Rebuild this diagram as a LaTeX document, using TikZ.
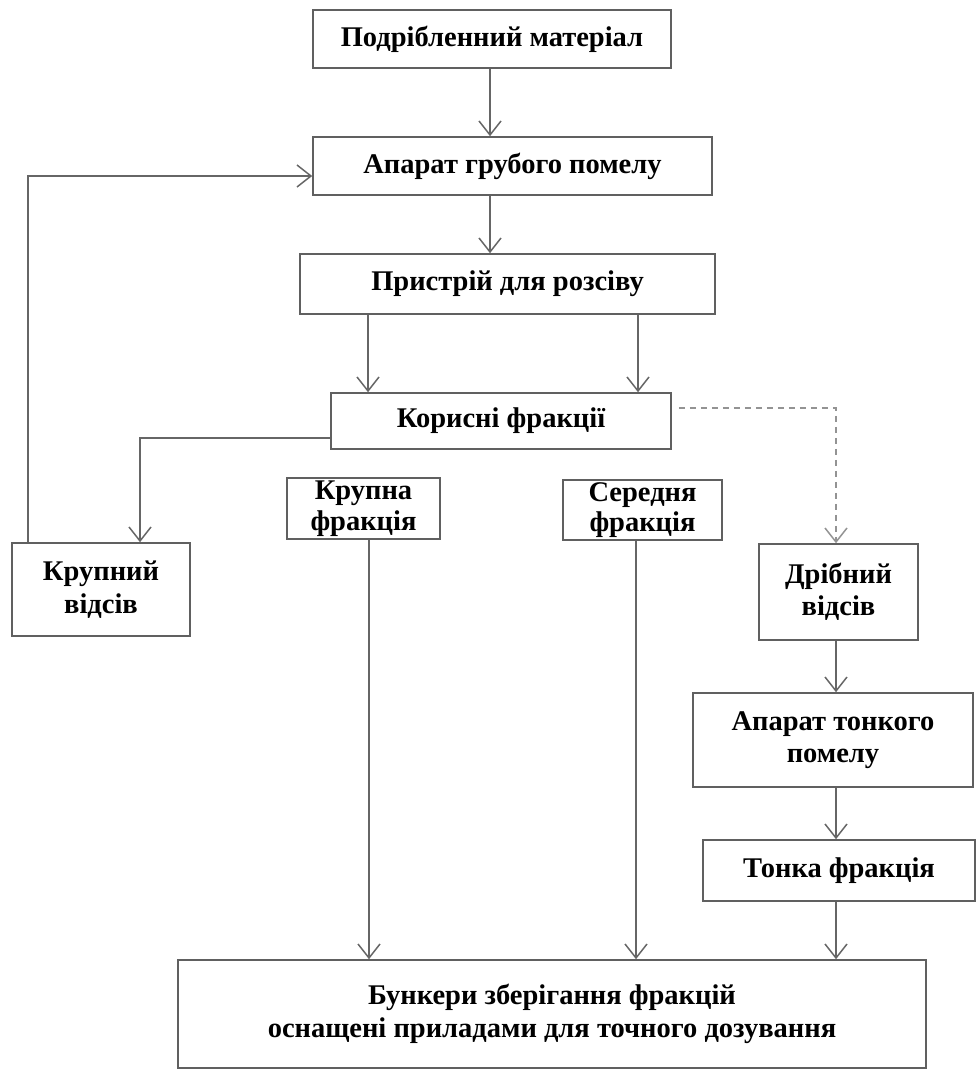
\documentclass[tikz,border=0pt]{standalone}
\usepackage{fontspec}
\setmainfont{Liberation Serif}
\usetikzlibrary{positioning}
\usetikzlibrary{arrows.meta}

\begin{document}
\begin{tikzpicture}[x=1pt,y=-1pt,
  blok/.style={draw=gray!75!black, line width=1.6pt, inner sep=0pt, align=center,
    font=\bfseries\fontsize{28.5}{32.5}\selectfont},
  strilka/.style={draw=gray!80!black, line width=1.5pt, -{Straight Barb[length=14pt,width=22pt]}},
  punktyr/.style={draw=gray!85, line width=1.5pt, dash pattern=on 6pt off 5pt,
    -{Straight Barb[length=14pt,width=22pt]}}]
\useasboundingbox (0,0) rectangle (978,1070);

\node[blok, minimum width=358, minimum height=58] (material) at (492,39) {Подрібленний матеріал};
\node[blok, minimum width=399, minimum height=58] (grubyi) at (512.5,166) {Апарат грубого помелу};
\node[blok, minimum width=415, minimum height=60] (rozsiv) at (507.5,284) {Пристрій для розсіву};
\node[blok, minimum width=340, minimum height=56] (korysni) at (501,421) {Корисні фракції};

\node[blok, minimum width=178, minimum height=93] (vidsiv) at (101,589.5) {Крупний\\відсів};
\node[blok, minimum width=153, minimum height=61] (krupna) at (363.5,508.5) {Крупна\\[-2pt]фракція};
\node[blok, minimum width=159, minimum height=60] (serednia) at (642.5,510) {Середня\\[-2pt]фракція};
\node[blok, minimum width=159, minimum height=96] (dribnyi) at (838.5,592) {Дрібний\\відсів};

\node[blok, minimum width=280, minimum height=94] (tonkyi) at (833,740) {Апарат тонкого\\помелу};
\node[blok, minimum width=272, minimum height=61] (tonka) at (839,870.5) {Тонка фракція};
\node[blok, minimum width=748, minimum height=108] (bunker) at (552,1014)
  {Бункери зберігання фракцій\\оснащені приладами для точного дозування};

% points where the lines run
\coordinate (os) at (490,0);
\coordinate (liv) at (368,0);
\coordinate (prav) at (638,0);
\coordinate (kv) at (140,438);
\coordinate (zv) at (28,176);
\coordinate (dr) at (836,408);
\coordinate (kr) at (369,0);
\coordinate (sr) at (636,0);

\draw[strilka] (material.south -| os) -- (grubyi.north -| os);
\draw[strilka] (grubyi.south -| os) -- (rozsiv.north -| os);
\draw[strilka] (rozsiv.south -| liv) -- (korysni.north -| liv);
\draw[strilka] (rozsiv.south -| prav) -- (korysni.north -| prav);

\draw[strilka] (korysni.west |- kv) -- (kv) -- (vidsiv.north -| kv);
\draw[strilka] (vidsiv.north -| zv) -- (zv) -- (grubyi.west |- zv);
\draw[punktyr, shorten <=7pt] (korysni.east |- dr) -- (dr) -- (dribnyi.north -| dr);

\draw[strilka] (dribnyi.south -| dr) -- (tonkyi.north -| dr);
\draw[strilka] (tonkyi.south -| dr) -- (tonka.north -| dr);

\draw[strilka] (krupna.south -| kr) -- (bunker.north -| kr);
\draw[strilka] (serednia.south -| sr) -- (bunker.north -| sr);
\draw[strilka] (tonka.south -| dr) -- (bunker.north -| dr);

\end{tikzpicture}
\end{document}
